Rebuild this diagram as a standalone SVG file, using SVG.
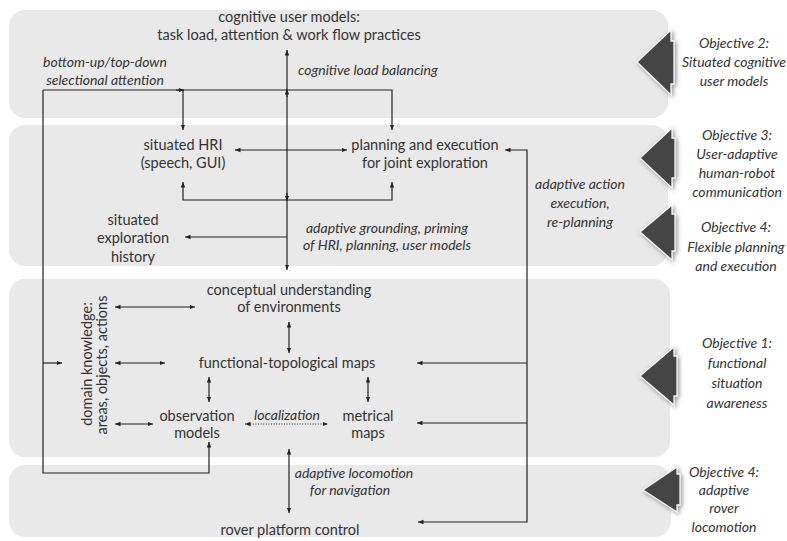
<svg xmlns="http://www.w3.org/2000/svg" width="787" height="541" viewBox="0 0 787 541">
  <defs>
    <style>
      .panel { fill: #e9e9e9; }
      .t { font-family: Lato, "Open Sans", "DejaVu Sans", sans-serif; font-size: 14.5px; fill: #333; text-anchor: middle; }
      .i { font-family: Lato, "Open Sans", "DejaVu Sans", sans-serif; font-size: 14px; font-style: italic; fill: #333; text-anchor: middle; }
      .ln { fill: none; stroke: #222; stroke-width: 1.2; }
      .dot { stroke-dasharray: 1 1.6; stroke-width: 1; }
      .tri { fill: #444; stroke: #f6f6f6; stroke-width: 1.3; stroke-linejoin: miter; filter: url(#glow); }
    </style>
    <marker id="ah" viewBox="0 0 10 10" refX="10" refY="5" markerWidth="5.5" markerHeight="5.5" markerUnits="userSpaceOnUse" orient="auto-start-reverse">
      <path d="M0,1 L10,5 L0,9 z" fill="#222"/>
    </marker>
    <filter id="glow" x="-40%" y="-30%" width="180%" height="160%">
      <feDropShadow dx="1.5" dy="1.5" stdDeviation="2" flood-color="#555" flood-opacity="0.65"/>
    </filter>
  </defs>

  <!-- layer bands -->
  <g id="bands">
    <rect class="panel" x="9" y="10" width="659" height="108" rx="16"/>
    <rect class="panel" x="9" y="125" width="659" height="141" rx="16"/>
    <rect class="panel" x="9" y="279" width="661" height="178" rx="16"/>
    <rect class="panel" x="9" y="465" width="662" height="72" rx="16"/>
  </g>

  <!-- objective pointers -->
  <g id="pointers">
    <path class="tri" d="M637,62 L671,30 L671,41 L674,41 L674,84 L671,84 L671,95 Z"/>
    <path class="tri" d="M640,158 L672,128 L672,138 L675,138 L675,178 L672,178 L672,188 Z"/>
    <path class="tri" d="M640,232 L672,205 L672,214 L675,214 L675,251 L672,251 L672,260 Z"/>
    <path class="tri" d="M640,376 L674,347 L674,356 L677,356 L677,396 L674,396 L674,405 Z"/>
    <path class="tri" d="M643,490 L677,467 L677,474 L680,474 L680,505 L677,505 L677,512 Z"/>
  </g>

  <!-- connectors -->
  <g id="connectors">
    <!-- attention loop -->
    <path class="ln" d="M43,90 V473 H209 V442" marker-end="url(#ah)"/>
    <path class="ln" d="M43,90 H392 V130" marker-end="url(#ah)"/>
    <path class="ln" d="M183,90 V130" marker-end="url(#ah)"/>
    <path class="ln" d="M176,90 H184" marker-end="url(#ah)"/>
    <path class="ln" d="M43,363 H62" marker-end="url(#ah)"/>
    <!-- cognitive load balancing / grounding spine -->
    <path class="ln" d="M287,50 V270" marker-start="url(#ah)" marker-end="url(#ah)"/>
    <path class="ln" d="M287,97 V89" marker-end="url(#ah)"/>
    <path class="ln" d="M287,193 V201" marker-end="url(#ah)"/>
    <path class="ln" d="M183,182 V200 H392 V182" marker-start="url(#ah)" marker-end="url(#ah)"/>
    <path class="ln" d="M235,150 H347" marker-start="url(#ah)" marker-end="url(#ah)"/>
    <path class="ln" d="M287,237 H185" marker-end="url(#ah)"/>
    <!-- situation awareness -->
    <path class="ln" d="M289,322 V353" marker-start="url(#ah)" marker-end="url(#ah)"/>
    <path class="ln" d="M209,377 V402" marker-start="url(#ah)" marker-end="url(#ah)"/>
    <path class="ln" d="M368,377 V402" marker-start="url(#ah)" marker-end="url(#ah)"/>
    <path class="ln dot" d="M245,424 H328" marker-start="url(#ah)" marker-end="url(#ah)"/>
    <path class="ln" d="M115,307 H195" marker-start="url(#ah)" marker-end="url(#ah)"/>
    <path class="ln" d="M115,363 H165" marker-start="url(#ah)" marker-end="url(#ah)"/>
    <path class="ln" d="M115,424 H153" marker-start="url(#ah)" marker-end="url(#ah)"/>
    <!-- adaptive action execution -->
    <path class="ln" d="M505,150 H527 V522 H418" marker-start="url(#ah)" marker-end="url(#ah)"/>
    <path class="ln" d="M527,363 H417" marker-end="url(#ah)"/>
    <path class="ln" d="M527,423 H417" marker-end="url(#ah)"/>
    <!-- locomotion -->
    <path class="ln" d="M289,449 V513" marker-start="url(#ah)" marker-end="url(#ah)"/>
  </g>

  <g id="cognitive-user-models">
    <text class="t" x="289" y="22">cognitive user models:</text>
    <text class="t" x="289" y="40">task load, attention &amp; work flow practices</text>
  </g>
  <g id="label-attention">
    <text class="i" x="105" y="67">bottom-up/top-down</text>
    <text class="i" x="105" y="85">selectional attention</text>
  </g>
  <g id="label-load">
    <text class="i" x="298" y="75" style="text-anchor:start">cognitive load balancing</text>
  </g>

  <g id="situated-hri">
    <text class="t" x="183" y="150">situated HRI</text>
    <text class="t" x="183" y="168">(speech, GUI)</text>
  </g>
  <g id="planning-execution">
    <text class="t" x="425" y="150">planning and execution</text>
    <text class="t" x="425" y="168">for joint exploration</text>
  </g>
  <g id="exploration-history">
    <text class="t" x="133" y="225">situated</text>
    <text class="t" x="133" y="243">exploration</text>
    <text class="t" x="133" y="262">history</text>
  </g>
  <g id="label-grounding">
    <text class="i" x="387" y="233">adaptive grounding, priming</text>
    <text class="i" x="387" y="250">of HRI, planning, user models</text>
  </g>
  <g id="label-action">
    <text class="i" x="580" y="189">adaptive action</text>
    <text class="i" x="580" y="208">execution,</text>
    <text class="i" x="580" y="227">re-planning</text>
  </g>

  <g id="conceptual-understanding">
    <text class="t" x="289" y="295">conceptual understanding</text>
    <text class="t" x="289" y="312">of environments</text>
  </g>
  <g id="functional-topological-maps">
    <text class="t" x="287" y="368">functional-topological maps</text>
  </g>
  <g id="observation-models">
    <text class="t" x="197" y="421">observation</text>
    <text class="t" x="197" y="438">models</text>
  </g>
  <g id="label-localization">
    <text class="i" x="287" y="420">localization</text>
  </g>
  <g id="metrical-maps">
    <text class="t" x="368" y="421">metrical</text>
    <text class="t" x="368" y="438">maps</text>
  </g>
  <g id="domain-knowledge">
    <text class="t" transform="translate(92,364) rotate(-90)">domain knowledge:</text>
    <text class="t" transform="translate(107,365) rotate(-90)">areas, objects, actions</text>
  </g>

  <g id="label-locomotion">
    <text class="i" x="354" y="478">adaptive locomotion</text>
    <text class="i" x="350" y="495">for navigation</text>
  </g>
  <g id="rover-platform-control">
    <text class="t" x="290" y="535">rover platform control</text>
  </g>

  <g id="objectives">
    <text class="i" x="734" y="48">Objective 2:</text>
    <text class="i" x="734" y="67">Situated cognitive</text>
    <text class="i" x="734" y="86">user models</text>

    <text class="i" x="737" y="140">Objective 3:</text>
    <text class="i" x="737" y="159">User-adaptive</text>
    <text class="i" x="737" y="178">human-robot</text>
    <text class="i" x="737" y="197">communication</text>

    <text class="i" x="736" y="232">Objective 4:</text>
    <text class="i" x="736" y="252">Flexible planning</text>
    <text class="i" x="736" y="271">and execution</text>

    <text class="i" x="737" y="348">Objective 1:</text>
    <text class="i" x="737" y="368">functional</text>
    <text class="i" x="737" y="388">situation</text>
    <text class="i" x="737" y="408">awareness</text>

    <text class="i" x="724" y="477">Objective 4:</text>
    <text class="i" x="724" y="495">adaptive</text>
    <text class="i" x="724" y="513">rover</text>
    <text class="i" x="724" y="532">locomotion</text>
  </g>
</svg>
